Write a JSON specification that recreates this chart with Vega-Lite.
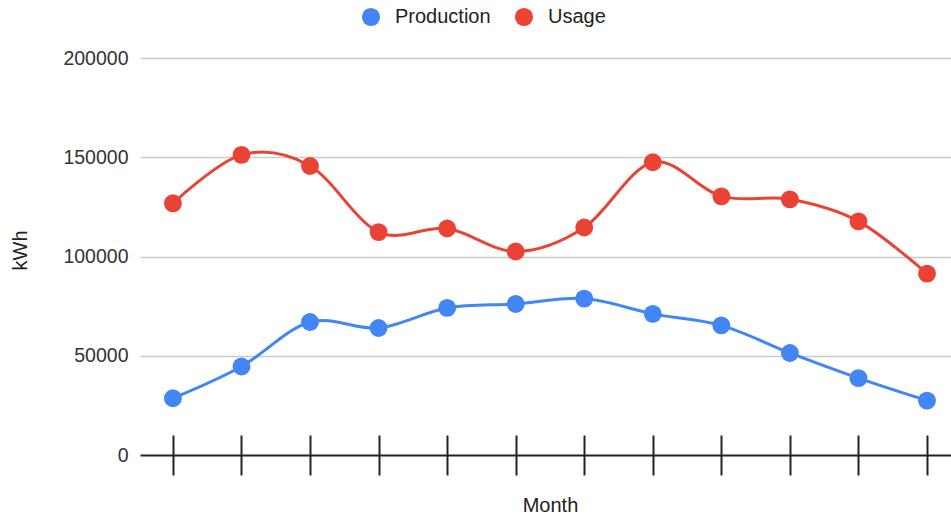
{
  "$schema": "https://vega.github.io/schema/vega-lite/v6.json",
  "autosize": {"type": "none"},
  "padding": {"left": 140, "top": 58, "right": 0, "bottom": 64},
  "width": 811,
  "height": 397,
  "config": {
    "font": "Liberation Sans",
    "view": {"stroke": null}
  },
  "data": {
    "values": [
      {"month": 1, "series": "Production", "kWh": 28600},
      {"month": 2, "series": "Production", "kWh": 44600},
      {"month": 3, "series": "Production", "kWh": 67000},
      {"month": 4, "series": "Production", "kWh": 64000},
      {"month": 5, "series": "Production", "kWh": 74100},
      {"month": 6, "series": "Production", "kWh": 76100},
      {"month": 7, "series": "Production", "kWh": 78800},
      {"month": 8, "series": "Production", "kWh": 71100},
      {"month": 9, "series": "Production", "kWh": 65300},
      {"month": 10, "series": "Production", "kWh": 51400},
      {"month": 11, "series": "Production", "kWh": 38700},
      {"month": 12, "series": "Production", "kWh": 27400},
      {"month": 1, "series": "Usage", "kWh": 126800},
      {"month": 2, "series": "Usage", "kWh": 151200},
      {"month": 3, "series": "Usage", "kWh": 145600},
      {"month": 4, "series": "Usage", "kWh": 112300},
      {"month": 5, "series": "Usage", "kWh": 114100},
      {"month": 6, "series": "Usage", "kWh": 102500},
      {"month": 7, "series": "Usage", "kWh": 114600},
      {"month": 8, "series": "Usage", "kWh": 147500},
      {"month": 9, "series": "Usage", "kWh": 130300},
      {"month": 10, "series": "Usage", "kWh": 128800},
      {"month": 11, "series": "Usage", "kWh": 117700},
      {"month": 12, "series": "Usage", "kWh": 91400}
    ]
  },
  "encoding": {
    "x": {
      "field": "month",
      "type": "quantitative",
      "scale": {"domain": [0.52, 12.35], "nice": false, "zero": false},
      "axis": {
        "title": "Month",
        "titleFontSize": 20,
        "titleFontWeight": "normal",
        "titleColor": "#222222",
        "titlePadding": 19,
        "titleX": 410,
        "labels": false,
        "grid": false,
        "domain": false,
        "ticks": true,
        "tickSize": 40,
        "tickWidth": 2,
        "tickColor": "#222222",
        "offset": -20,
        "values": [1, 2, 3, 4, 5, 6, 7, 8, 9, 10, 11, 12]
      }
    },
    "y": {
      "field": "kWh",
      "type": "quantitative",
      "scale": {"domain": [0, 200000], "nice": false},
      "axis": {
        "title": "kWh",
        "titleFontSize": 20,
        "titleFontWeight": "normal",
        "titleColor": "#222222",
        "titlePadding": 32,
        "titleY": 192,
        "labelFontSize": 19.5,
        "labelColor": "#333333",
        "labelPadding": 12,
        "ticks": false,
        "domain": false,
        "format": "d",
        "values": [0, 50000, 100000, 150000, 200000],
        "gridColor": {"condition": {"test": "datum.value === 0", "value": "#222222"}, "value": "#cccccc"},
        "gridWidth": {"condition": {"test": "datum.value === 0", "value": 2}, "value": 1.3}
      }
    },
    "color": {
      "field": "series",
      "type": "nominal",
      "scale": {"domain": ["Production", "Usage"], "range": ["#4285F4", "#EA4335"]},
      "legend": {
        "title": null,
        "orient": "none",
        "legendX": 221,
        "legendY": -51,
        "direction": "horizontal",
        "symbolType": "circle",
        "symbolSize": 330,
        "symbolStrokeWidth": 0,
        "labelFontSize": 20,
        "labelColor": "#222222",
        "labelOffset": 14,
        "columnPadding": 23
      }
    }
  },
  "layer": [
    {"mark": {"type": "line", "interpolate": "cardinal", "strokeWidth": 3}},
    {"mark": {"type": "point", "filled": true, "size": 320, "opacity": 1}}
  ]
}
